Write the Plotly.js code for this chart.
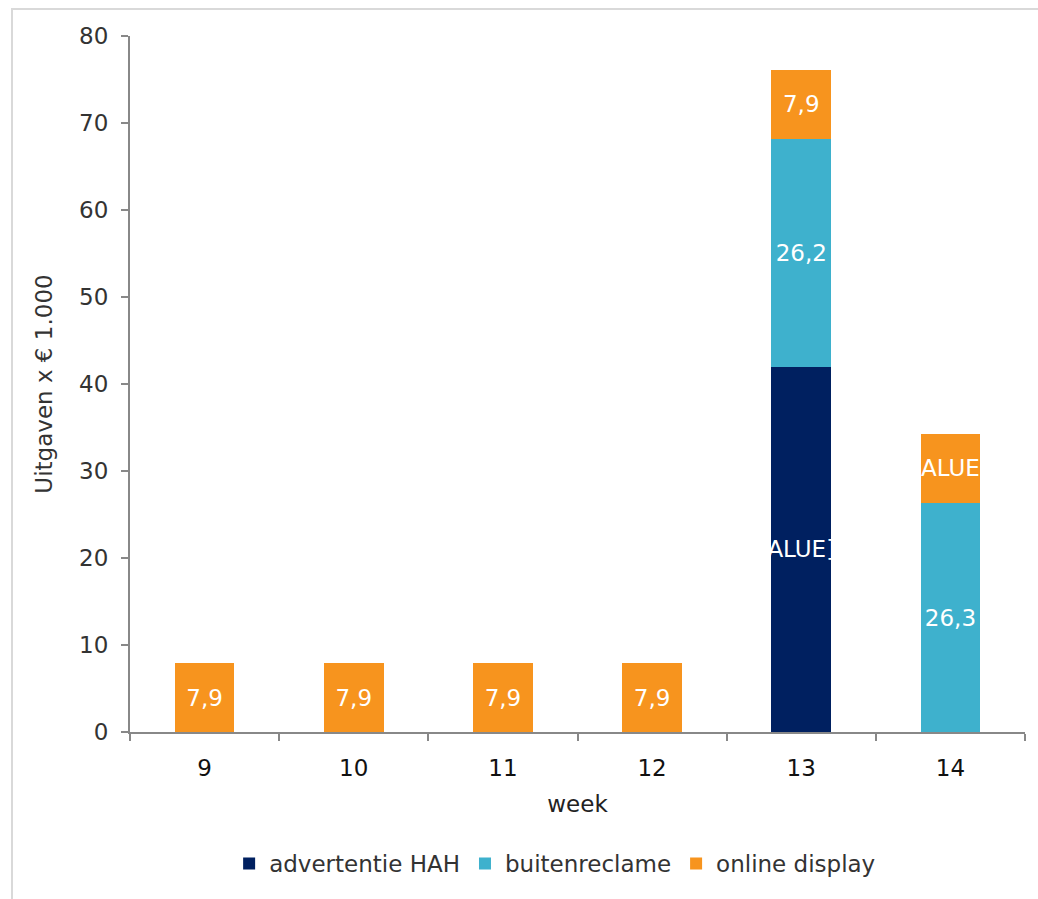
<!DOCTYPE html>
<html>
<head>
<meta charset="utf-8">
<script src="https://cdn.plot.ly/plotly-3.0.1.min.js"></script>
<style>
html,body{margin:0;padding:0;background:#fff;}
#chart{width:1038px;height:899px;}
</style>
</head>
<body>
<div id="chart"></div>
<script>
const weeks = ['9','10','11','12','13','14'];
const advertentieHAH = [null, null, null, null, 42.0, null];
const buitenreclame = [null, null, null, null, 26.2, 26.3];
const onlineDisplay = [7.9, 7.9, 7.9, 7.9, 7.9, 8.0];
const labelsHAH = ['', '', '', '', 'ALUE]', ''];
const labelsBuiten = ['', '', '', '', '26,2', '26,3'];
const labelsOnline = ['7,9', '7,9', '7,9', '7,9', '7,9', 'ALUE'];

const font = 'DejaVu Sans, Verdana, sans-serif';
const common = {
  type: 'bar', x: weeks, width: 0.4,
  textposition: 'inside', insidetextanchor: 'middle', constraintext: 'none', textangle: 0,
  textfont: {family: font, size: 23, color: '#ffffff'},
  hoverinfo: 'skip'
};
const traces = [
  Object.assign({}, common, {name: 'advertentie HAH', y: advertentieHAH, text: labelsHAH,
    marker: {color: '#002060', line: {width: 0}}}),
  Object.assign({}, common, {name: 'buitenreclame', y: buitenreclame, text: labelsBuiten,
    marker: {color: '#3EB1CD', line: {width: 0}}}),
  Object.assign({}, common, {name: 'online display', y: onlineDisplay, text: labelsOnline,
    marker: {color: '#F7941E', line: {width: 0}}})
];

const layout = {
  width: 1038, height: 899,
  margin: {l: 130, r: 13, t: 36, b: 167},
  barmode: 'stack',
  paper_bgcolor: '#ffffff', plot_bgcolor: '#ffffff',
  font: {family: font, size: 23, color: '#333333'},
  showlegend: true,
  legend: {orientation: 'h', x: 0.475, xanchor: 'center', y: -0.158, yanchor: 'top',
    font: {family: font, size: 23, color: '#333333'}, traceorder: 'normal',
    itemwidth: 30},
  xaxis: {
    type: 'category', tickson: 'boundaries', ticks: 'outside', ticklen: 7,
    tickcolor: '#888888', tickwidth: 2,
    showline: true, linecolor: '#888888', linewidth: 2,
    showgrid: false, zeroline: false, ticklabelstandoff: 14,
    tickfont: {family: font, size: 23, color: '#111111'},
    title: {text: 'week', font: {family: font, size: 23, color: '#222222'}, standoff: 16}
  },
  yaxis: {
    range: [0, 80], dtick: 10, ticks: 'outside', ticklen: 7,
    tickcolor: '#888888', tickwidth: 2,
    showline: true, linecolor: '#888888', linewidth: 2,
    showgrid: false, zeroline: false, ticklabelstandoff: 8,
    tickfont: {family: font, size: 23, color: '#333333'},
    title: {text: 'Uitgaven x € 1.000', font: {family: font, size: 23, color: '#333333'}, standoff: 20}
  },
  shapes: [{
    type: 'rect', xref: 'paper', yref: 'paper',
    x0: -118/895, x1: 1.05, y0: -0.5, y1: 1 + 27/696,
    line: {color: '#d9d9d9', width: 2}, fillcolor: 'rgba(0,0,0,0)', layer: 'below'
  }]
};

Plotly.newPlot('chart', traces, layout, {displayModeBar: false, staticPlot: true});
</script>
</body>
</html>
